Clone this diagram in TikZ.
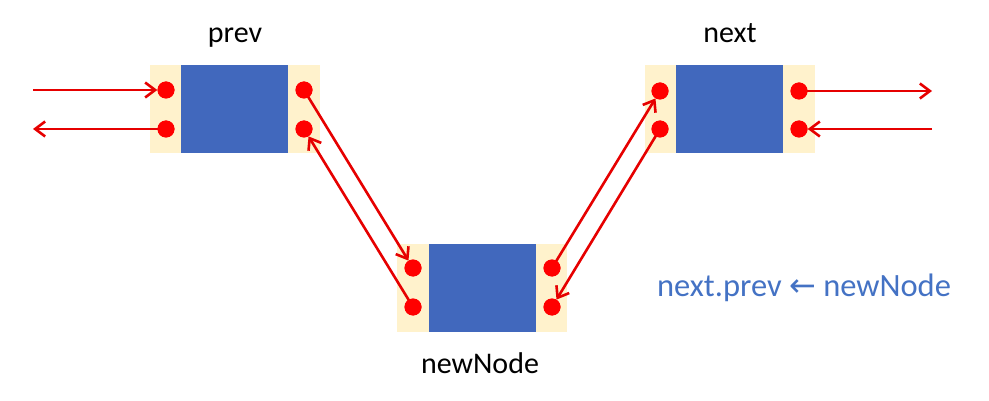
\documentclass[tikz,border=0pt]{standalone}
\usepackage{fontspec}
\setmainfont{Carlito}
\newfontfamily\arrowfont{DejaVu Sans}
\usetikzlibrary{arrows.meta}
\definecolor{cream}{HTML}{FFF2CC}
\definecolor{boxblue}{HTML}{4168BD}
\definecolor{txtblue}{HTML}{4472C4}
\definecolor{linkred}{HTML}{E60000}
\begin{document}
\begin{tikzpicture}[x=1pt,y=-1pt,
  cell/.style={fill=cream, draw=none, minimum width=170pt, minimum height=88pt, inner sep=0pt},
  core/.style={fill=boxblue, draw=none, minimum width=107pt, minimum height=88pt, inner sep=0pt},
  dot/.style={circle, fill=red, draw=none, minimum size=17pt, inner sep=0pt},
  link/.style={draw=linkred, line width=2.6pt, -{Straight Barb[length=10pt,width=15pt,line width=2.6pt]}},
  lbl/.style={font=\fontsize{30}{36}\selectfont, anchor=base, inner sep=0pt}]
\useasboundingbox (0,0) rectangle (989,401);
% prev
\node[cell] (pc) at (235,109) {};
\node[core] (pb) at (234.5,109) {};
\node[dot] (pl1) at (166,90) {};
\node[dot] (pl2) at (166,129) {};
\node[dot] (pr1) at (304,90) {};
\node[dot] (pr2) at (304,129) {};
% newNode
\node[cell] (nc) at (482,288) {};
\node[core] (nb) at (482.5,288) {};
\node[dot] (nl1) at (413,268) {};
\node[dot] (nl2) at (413,307) {};
\node[dot] (nr1) at (552,268) {};
\node[dot] (nr2) at (552,307) {};
% next
\node[cell] (xc) at (729.5,109) {};
\node[core] (xb) at (729.5,109) {};
\node[dot] (xl1) at (660,91) {};
\node[dot] (xl2) at (660,129) {};
\node[dot] (xr1) at (799,91) {};
\node[dot] (xr2) at (799,129) {};
% labels
\node[lbl] (tprev) at (235,43) {prev};
\node[lbl] (tnext) at (730,43) {next};
\node[lbl] (tnew) at (480,373) {newNode};
\node[lbl, text=txtblue, font=\fontsize{32.5}{38}\selectfont] (tcode) at (804,296) {next.prev {\arrowfont\fontsize{32}{38}\selectfont ←} newNode};
% free ends
\coordinate (a1) at (33,90);
\coordinate (a2) at (33,129);
\coordinate (b1) at (932,91);
\coordinate (b2) at (932,129);
% connectors
\draw[link] (a1) -- (pl1);
\draw[link] (pl2.center) -- (a2);
\draw[link] (xr1.center) -- (b1);
\draw[link] (b2) -- (xr2);
\draw[link] (pr1.center) -- (nl1);
\draw[link] (nl2.center) -- (pr2);
\draw[link] (nr1.center) -- (xl1);
\draw[link] (xl2.center) -- (nr2);
% redraw dots above line starts
\foreach \d in {pl1,pl2,pr1,pr2,nl1,nl2,nr1,nr2,xl1,xl2,xr1,xr2}
  \fill[red] (\d.center) circle (8.5pt);
\end{tikzpicture}
\end{document}
